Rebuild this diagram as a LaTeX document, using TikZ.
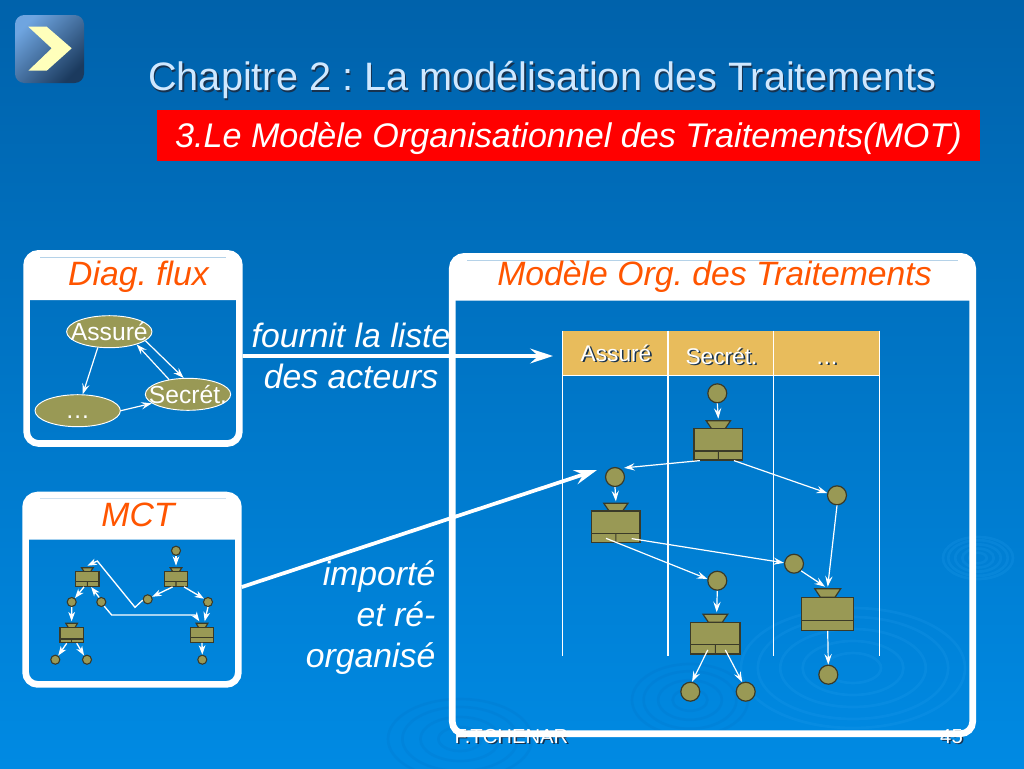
\documentclass[tikz,border=0pt]{standalone}
\usepackage{fontspec}
\setmainfont{Liberation Sans}
\usetikzlibrary{arrows.meta, positioning, shapes.geometric, calc, fit}

\definecolor{bgtop}{HTML}{0062AB}
\definecolor{bgmid}{HTML}{006EBE}
\definecolor{bgbot}{HTML}{008AE3}
\definecolor{olive}{HTML}{999955}
\definecolor{oliveline}{HTML}{3A3A28}
\definecolor{headgold}{HTML}{E8BC5C}
\definecolor{titleblue}{HTML}{CFE8FF}
\definecolor{headorange}{HTML}{FF5500}
\definecolor{shadowc}{HTML}{17324F}
\definecolor{rippleup}{HTML}{2AA2F0}
\definecolor{rippledn}{HTML}{0070C4}
\definecolor{iconlight}{HTML}{6FA5E0}
\definecolor{icondark}{HTML}{1B3A5E}
\definecolor{chevron}{HTML}{FFFFBB}
\definecolor{hairc}{HTML}{B5D2E8}

\tikzset{
  panelbox/.style={draw=white, line width=5pt, rounded corners=9pt, inner sep=0pt},
  headtxt/.style={anchor=base, text=headorange, font=\fontsize{25.3}{30}\selectfont\itshape},
  sidetxt/.style={text=white, font=\fontsize{25.3}{30.75}\selectfont\itshape},
  ell/.style={ellipse, draw=white, fill=olive, line width=0.7pt, minimum width=64pt, minimum height=24pt, inner sep=0pt, text=white, font=\fontsize{18.5}{20}\selectfont},
  flow/.style={draw=white, line width=0.9pt, -{Stealth[length=8pt,width=5.5pt,inset=3pt]}},
  sflow/.style={draw=white, line width=1pt, -{Stealth[length=7pt,width=5pt,inset=2pt]}},
  bigflow/.style={draw=white, line width=2.8pt, -{Stealth[length=17pt,width=11pt,inset=6pt]}},
  evt/.style={circle, draw=oliveline, fill=olive, line width=0.9pt, minimum size=14.2pt, inner sep=0pt},
  sevt/.style={evt, line width=0.8pt, minimum size=6.8pt},
  opbox/.style={draw=oliveline, fill=olive, line width=0.9pt, inner sep=0pt},
  headcell/.style={fill=headgold, minimum width=79.2pt, minimum height=33pt, inner sep=0pt},
  celltxt/.style={anchor=base, text=white, font=\fontsize{17}{20}\selectfont},
  colline/.style={draw=white, line width=1.1pt},
  foottxt/.style={anchor=base, text=white, font=\fontsize{15.2}{18}\selectfont},
  hairline/.style={draw=hairc, line width=0.6pt}
}

% name, left, right, top, bottom, divider, top of the cone
\newcommand{\optrait}[7]{
  \pgfmathsetmacro{\cxop}{(#2+#3)/2}
  \pgfmathsetmacro{\wtop}{(#3-#2)*0.25}
  \pgfmathsetmacro{\wbot}{(#3-#2)*0.14}
  \draw[opbox] (\cxop-\wtop,#7) -- (\cxop+\wtop,#7) -- (\cxop+\wbot,#4) -- (\cxop-\wbot,#4) -- cycle;
  \node[opbox, fit={(#2,#4) (#3,#5)}] (#1) {};
  \draw[opbox] (#2,#6) -- (#3,#6);
  \coordinate (#1-in) at (\cxop,#7-2);
  \coordinate (#1-mid) at (\cxop,#6);
}
\newcommand{\shnode}[5]{
  \node[#1, text=shadowc] at ([shift={(1.2pt,-1.2pt)}]#3,#4) {#5};
  \node[#1] (#2) at (#3,#4) {#5};
}

\begin{document}
\frenchspacing
\begin{tikzpicture}[x=0.75pt, y=-0.75pt]
\useasboundingbox (0,0) rectangle (1024,768);
\fill[top color=bgtop, middle color=bgmid, bottom color=bgbot] (0,0) rectangle (1024,768);

\foreach \cx/\cy/\rx/\ry in {853/668/112/60, 978/558/35/21}
  \foreach \r in {0.25,0.45,0.65,0.85,1}
    \draw[rippleup, opacity=0.18, line width=2pt] (\cx,\cy) ellipse ({\r*\rx} and {\r*\ry});
\foreach \cx/\cy/\rx/\ry in {460/739/72/40, 690/700/58/36}
  \foreach \r in {0.3,0.55,0.8,1}
    \draw[rippledn, opacity=0.2, line width=2pt] (\cx,\cy) ellipse ({\r*\rx} and {\r*\ry});

\shade[top color=iconlight, bottom color=icondark, shading angle=45, rounded corners=7pt] (15,15) rectangle (84,83);
\fill[chevron] (28.3,26.7) -- (46.7,26.7) -- (71.7,48.3) -- (46.7,70.7) -- (28.3,70.7) -- (51.7,48.3) -- cycle;

\shnode{anchor=base west, inner sep=0pt, text=titleblue, font=\fontsize{29.75}{34}\selectfont}{title}{148}{90.5}{Chapitre 2 : La modélisation des Traitements}
\node[fill=red, minimum width=617pt, minimum height=38.2pt, inner sep=0pt, text height=20pt, text depth=2pt, text=white, font=\fontsize{25.6}{30}\selectfont\itshape] (subtitle) at (568.5,135.5) {3.Le Modèle Organisationnel des Traitements(MOT)};

\shnode{foottxt}{author}{511.5}{743}{F.TCHENAR}
\shnode{foottxt}{pageno}{951.5}{743}{45}

\fill[white] (26.6,300) [rounded corners=9pt] -- (26.6,253.3) -- (239.4,253.3) [sharp corners] -- (239.4,300) -- cycle;
\fill[white] (25.6,539.5) [rounded corners=9pt] -- (25.6,495) -- (238.4,495) [sharp corners] -- (238.4,539.5) -- cycle;
\fill[white] (452.3,300.5) [rounded corners=9pt] -- (452.3,256.3) -- (972.7,256.3) [sharp corners] -- (972.7,300.5) -- cycle;
\draw[hairline] (40,257.5) -- (226,257.5);
\draw[hairline] (40,498.5) -- (226,498.5);
\draw[hairline] (467,260.5) -- (958,260.5);
\node[panelbox, minimum width=159.6pt, minimum height=142.6pt] (diag) at (133,348.4) {};
\node[panelbox, minimum width=159.6pt, minimum height=142pt] (mct) at (132,589.7) {};
\node[panelbox, minimum width=390.3pt, minimum height=358pt] (mot) at (712.5,495) {};

\node[headtxt] (diaghead) at (138.5,285) {Diag. flux};
\node[headtxt] (mcthead) at (138,526.7) {MCT};
\node[headtxt] (mothead) at (714.5,285) {Modèle Org. des Traitements};

\node[ell] (assure) at (109.3,331.7) {\makebox[0pt]{Assuré}};
\node[ell] (secret) at (188,394.3) {\makebox[0pt]{Secrét.}};
\node[ell] (autre) at (77.7,410.7) {\smash{\raisebox{-6pt}{\makebox[0pt]{…}}}};
\draw[flow] (assure.234) -- (autre.73);
\draw[flow] (assure.-14) -- (secret.105);
\draw[flow] (secret.142) -- (assure.-25);
\draw[flow] (autre.0) -- (secret.194);

\node[sidetxt, align=center] (fournit) at (351,355.5) {fournit la liste\\des acteurs};
\node[sidetxt, align=right, anchor=east] (importe) at (440,618) {importé\\et ré-\\organisé};

\node[headcell] (hdassure) at (615.5,353) {};
\node[headcell] (hdsecret) at (721,353) {};
\node[headcell] (hdautre) at (826.5,353) {};
\shnode{celltxt}{lbassure}{616}{361}{Assuré}
\shnode{celltxt}{lbsecret}{721.5}{364}{Secrét.}
\shnode{celltxt}{lbautre}{827}{364}{…}
\foreach \hd/\an in {hdassure/west, hdsecret/west, hdautre/west, hdautre/east}
  \draw[colline] (\hd.north \an) -- (\hd.north \an |- 0,656);
\draw[colline] (hdassure.south west) -- (hdautre.south east);

\node[evt] (ev1) at (717.3,393.3) {};
\optrait{op1}{694}{742.7}{428.7}{460}{451}{420.7}
\draw[opbox] (op1.south) -- (op1-mid);
\node[evt] (ev2) at (615,477) {};
\optrait{op2}{591.7}{640}{511}{542.7}{533.3}{503.3}
\draw[opbox] (op2.south) -- (op2-mid);
\node[evt] (ev3) at (837,495.3) {};
\node[evt] (ev4) at (717.3,580.7) {};
\node[evt] (ev5) at (794,563.7) {};
\optrait{op3}{690.7}{740}{622.3}{654}{644.3}{614.3}
\draw[opbox] (op3.south) -- (op3-mid);
\optrait{op4}{801.7}{853.7}{597.3}{630.3}{620.7}{588.7}
\node[evt] (ev6) at (690.3,691.7) {};
\node[evt] (ev7) at (745.7,691.7) {};
\node[evt] (ev8) at (828.3,674.7) {};

\draw[flow] (ev1.south) -- (op1-in);
\draw[flow] ([xshift=-13.8pt]op1.south) -- ([shift={(1.5pt,1.5pt)}]ev2.45);
\draw[flow] ([xshift=11.7pt]op1.south) -- (ev3.167);
\draw[flow] (ev2.south) -- (op2-in);
\draw[flow] ([shift={(-7.4pt,3.75pt)}]op2.south) -- (ev4.170);
\draw[flow] ([shift={(11.9pt,3.5pt)}]op2.south) -- (ev5.175);
\draw[flow] (ev3.south) -- (op4-in);
\draw[flow] (ev5.-45) -- ([xshift=-2pt]op4-in);
\draw[flow] (ev4.south) -- ([xshift=1pt]op3-in);
\draw[flow] ([shift={(-5.7pt,3.5pt)}]op3.south) -- (ev6.80);
\draw[flow] ([shift={(7.5pt,3.5pt)}]op3.south) -- (ev7.110);
\draw[flow] (op4.south) -- (ev8.north);

\node[sevt] (sev1) at (176,550.7) {};
\optrait{sop1}{75.7}{99}{571.7}{586.3}{581.7}{567.7}
\draw[opbox] (sop1.south) -- (sop1-mid);
\optrait{sop2}{164.3}{187.7}{571.7}{586.3}{581.7}{567.7}
\draw[opbox] (sop2.south) -- (sop2-mid);
\optrait{sop3}{60}{83.3}{627.7}{642.7}{639}{623.3}
\draw[opbox] (sop3.south) -- (sop3-mid);
\optrait{sop4}{190.3}{213.7}{627.7}{642.3}{637.7}{623.3}
\node[sevt] (sev2) at (71.7,602) {};
\node[sevt] (sev3) at (101.3,602) {};
\node[sevt] (sev4) at (147.7,599.3) {};
\node[sevt] (sev5) at (208,602) {};
\node[sevt] (sev6) at (55.3,659.7) {};
\node[sevt] (sev7) at (87,659.7) {};
\node[sevt] (sev8) at (202.3,659.7) {};

\draw[sflow] (sev1.south) -- (sop2-in);
\draw[sflow] ([xshift=-2.5pt]sop2.south) -- (sev4.30);
\draw[sflow] ([xshift=6pt]sop2.south) -- (sev5.140);
\draw[sflow] ([xshift=-2.5pt]sop1.south) -- (sev2.50);
\draw[sflow] (sev3.115) -- ([xshift=2.8pt]sop1.south);
\draw[sflow] (sev2.south) -- (sop3-in);
\draw[sflow] ([xshift=-3.7pt]sop3.south) -- (sev6.55);
\draw[sflow] ([xshift=3.8pt]sop3.south) -- (sev7.125);
\draw[sflow] (sev5.south) -- ([xshift=2pt]sop4-in);
\draw[sflow] (sev3.-55) -- (111.7,615) -- (195,615) -- ([xshift=-2pt]sop4-in);
\draw[sflow] (sev4.190) -- (135,607.3) -- (97.3,561) -- (sop1-in);
\draw[sflow] (sop4.south) -- (sev8.north);

\coordinate (acteurs) at (553,356);
\coordinate (reprise) at (597,470);
\draw[bigflow] ([yshift=-5.7pt]diag.east) -- (acteurs);
\draw[bigflow] ([yshift=2pt]mct.east) -- (reprise);
\end{tikzpicture}
\end{document}
